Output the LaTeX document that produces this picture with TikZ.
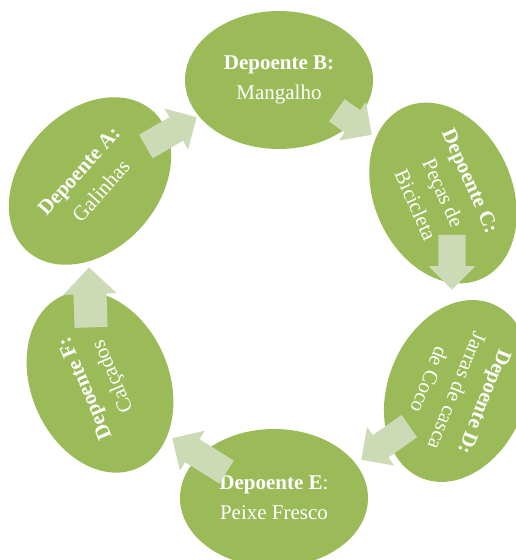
\documentclass[tikz,border=0pt]{standalone}
\usepackage{fontspec}
\setmainfont{Liberation Serif}
\usetikzlibrary{shapes.geometric, shapes.arrows}

\definecolor{depogreen}{HTML}{9BBB59}
\definecolor{arrowgreen}{HTML}{CCDAB6}

\begin{document}
\begin{tikzpicture}[
  x=0.75pt, y=0.75pt,
  depo/.style = {ellipse, fill=depogreen, draw=none, text=white, inner sep=0pt,
                 minimum width=141pt, minimum height=103.5pt, align=center,
                 font=\fontsize{15.75}{22.5}\selectfont},
  flow/.style = {single arrow, fill=arrowgreen, draw=none, anchor=tip,
                 minimum width=0pt, inner xsep=0pt, inner ysep=10pt,
                 single arrow head extend=7.5pt, minimum height=44pt},
  bigflow/.style = {flow, inner ysep=12.2pt, single arrow head extend=7.6pt}
]
  \useasboundingbox (0,0) rectangle (515,560);

  % Depoentes round the cycle
  \node[depo, rotate=48]   (depA) at (90,379)  {\textbf{Depoente A:}\\Galinhas};
  \node[depo]              (depB) at (279,480) {\textbf{Depoente B:}\\Mangalho};
  \node[depo, rotate=-66]  (depC) at (443,367) {\textbf{Depoente C:}\\Peças de\\Bicicleta};
  \node[depo, rotate=-112] (depD) at (457,169) {\textbf{Depoente D:}\\Jarras de casca\\de Coco};
  \node[depo]              (depE) at (274,62)  {\textbf{Depoente E}:\\Peixe Fresco};
  \node[depo, rotate=113]  (depF) at (100,178) {\textbf{Depoente F:}\\Calçados};

  % Block arrows, A -> B -> C -> D -> E -> F -> A
  \node[flow, rotate=30]                       (ab) at (197,443) {};
  \node[flow, rotate=-35, minimum height=32pt] (bc) at (372,425) {};
  \node[flow, rotate=-90, minimum height=41pt] (cd) at (452,270) {};
  \node[flow, rotate=-145]                     (de) at (361,100) {};
  \node[flow, rotate=148, minimum height=48pt] (ef) at (172,122) {};
  \node[bigflow, rotate=92, minimum height=45pt] (fa) at (89,293) {};

\end{tikzpicture}
\end{document}
